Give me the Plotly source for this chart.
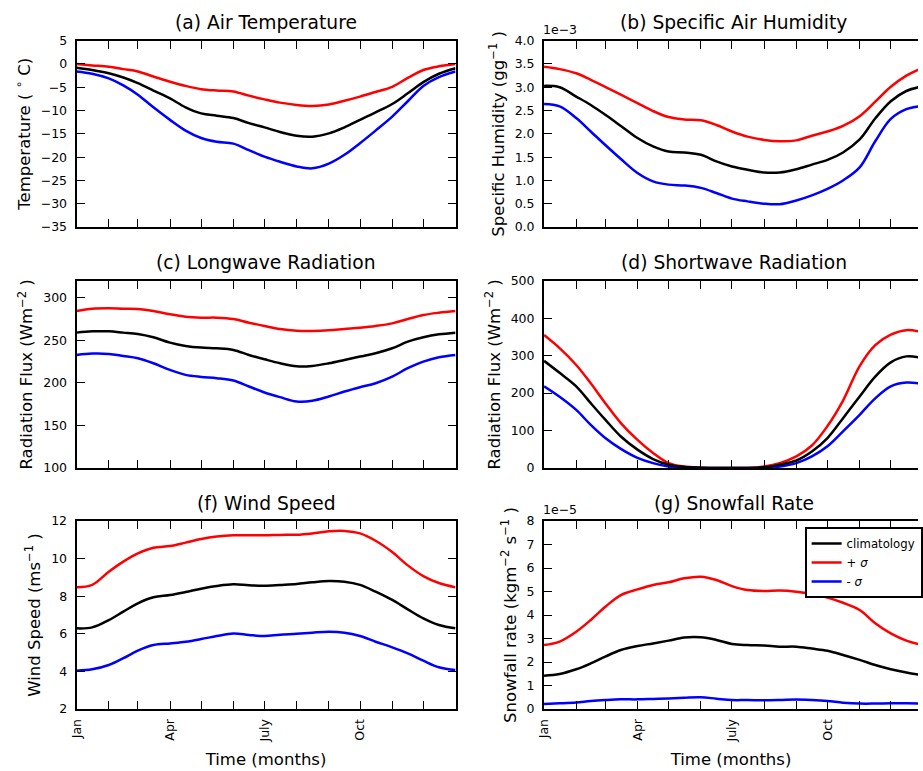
import plotly.graph_objects as go

# Day-of-year sample points (month starts and mid-months)
days = [0, 15, 31, 45, 59, 74, 90, 105, 120, 135, 151, 166, 181,
        196, 212, 227, 243, 258, 273, 288, 304, 319, 334, 349, 365]

month_starts = [0, 31, 59, 90, 120, 151, 181, 212, 243, 273, 304, 334, 365]
month_labels = ["Jan", "", "", "Apr", "", "", "July", "", "", "Oct", "", "", ""]

# (a) Air temperature, deg C
temp_mean = [-0.8, -1.3, -2.0, -2.9, -4.1, -5.7, -7.4, -9.3, -10.6, -11.1, -11.6, -12.7, -13.6,
             -14.6, -15.4, -15.6, -14.9, -13.6, -12.0, -10.4, -8.6, -6.3, -3.9, -2.1, -0.9]
temp_plus = [0.0, -0.3, -0.6, -1.1, -1.6, -2.7, -3.8, -4.7, -5.4, -5.7, -5.9, -6.8, -7.6,
             -8.3, -8.8, -9.0, -8.7, -7.9, -7.0, -6.0, -4.9, -3.0, -1.3, -0.5, 0.0]
temp_minus = [-1.6, -2.1, -3.1, -4.6, -6.6, -9.3, -12.0, -14.3, -15.9, -16.7, -17.1, -18.5, -19.9,
              -21.0, -22.0, -22.4, -21.4, -19.5, -17.0, -14.3, -11.3, -8.0, -4.7, -2.8, -1.6]

# (b) Specific air humidity, units of 1e-3 g/g
hum_mean = [3.03, 3.00, 2.80, 2.62, 2.41, 2.17, 1.91, 1.73, 1.62, 1.60, 1.55, 1.41, 1.30,
            1.23, 1.17, 1.17, 1.24, 1.34, 1.44, 1.60, 1.88, 2.33, 2.70, 2.92, 3.02]
hum_plus = [3.44, 3.39, 3.30, 3.16, 3.01, 2.84, 2.66, 2.49, 2.36, 2.31, 2.29, 2.19, 2.05,
            1.94, 1.87, 1.84, 1.86, 1.96, 2.05, 2.17, 2.38, 2.69, 3.01, 3.25, 3.42]
hum_minus = [2.64, 2.59, 2.34, 2.05, 1.76, 1.46, 1.16, 0.98, 0.91, 0.89, 0.84, 0.73, 0.61,
             0.55, 0.50, 0.49, 0.57, 0.68, 0.82, 1.00, 1.28, 1.84, 2.32, 2.53, 2.60]

# (c) Longwave radiation, W m-2
lw_mean = [259.0, 260.5, 260.5, 259.0, 257.4, 253.5, 247.3, 243.4, 241.4, 240.6, 238.7, 232.8, 227.7,
           223.0, 219.5, 219.9, 223.0, 226.9, 230.9, 234.8, 240.6, 248.4, 253.5, 257.0, 259.0]
lw_plus = [284.4, 287.0, 287.5, 287.0, 286.7, 284.4, 280.5, 277.7, 276.6, 276.6, 275.0, 270.7, 266.8,
           263.3, 261.3, 261.0, 261.7, 263.3, 264.8, 266.8, 269.9, 275.0, 279.7, 282.4, 284.4]
lw_minus = [232.8, 234.4, 234.0, 231.6, 228.9, 223.0, 215.2, 209.4, 207.0, 205.5, 202.7, 195.7, 188.7,
            183.2, 178.1, 178.9, 184.0, 189.8, 194.9, 199.6, 207.4, 217.2, 225.0, 230.1, 232.8]

# (d) Shortwave radiation, W m-2
sw_mean = [286, 254, 218, 173, 129, 84, 49, 24, 9, 3, 1, 0, 0,
           0, 2, 9, 20, 44, 80, 133, 191, 244, 282, 298, 293]
sw_plus = [355, 320, 275, 226, 173, 120, 75, 40, 13, 4, 1, 0, 0,
           0, 4, 13, 31, 60, 112, 180, 272, 328, 356, 368, 362]
sw_minus = [218, 190, 155, 115, 80, 51, 27, 13, 4, 2, 0, 0, 0,
            0, 1, 4, 13, 31, 58, 98, 142, 186, 218, 228, 224]

# (f) Wind speed, m s-1
wind_mean = [6.29, 6.34, 6.73, 7.18, 7.62, 7.94, 8.06, 8.22, 8.40, 8.54, 8.63, 8.58, 8.56,
             8.60, 8.65, 8.74, 8.81, 8.77, 8.60, 8.24, 7.80, 7.30, 6.82, 6.47, 6.29]
wind_plus = [8.47, 8.60, 9.30, 9.84, 10.28, 10.58, 10.67, 10.85, 11.04, 11.17, 11.24, 11.24, 11.24,
             11.26, 11.27, 11.34, 11.45, 11.47, 11.34, 10.95, 10.35, 9.64, 9.07, 8.70, 8.47]
wind_minus = [4.04, 4.11, 4.34, 4.70, 5.10, 5.40, 5.49, 5.58, 5.72, 5.88, 6.02, 5.94, 5.88,
              5.95, 6.00, 6.06, 6.11, 6.06, 5.88, 5.58, 5.28, 4.96, 4.57, 4.22, 4.07]

# (g) Snowfall rate, units of 1e-5 kg m-2 s-1
snow_mean = [1.42, 1.49, 1.69, 1.94, 2.23, 2.51, 2.68, 2.79, 2.91, 3.04, 3.05, 2.94, 2.77,
             2.72, 2.70, 2.65, 2.65, 2.57, 2.48, 2.30, 2.09, 1.87, 1.69, 1.55, 1.43]
snow_plus = [2.72, 2.87, 3.29, 3.79, 4.35, 4.85, 5.09, 5.28, 5.39, 5.56, 5.63, 5.49, 5.23,
             5.06, 5.02, 5.04, 4.99, 4.89, 4.74, 4.52, 4.21, 3.65, 3.22, 2.91, 2.72]
snow_minus = [0.21, 0.24, 0.28, 0.34, 0.38, 0.41, 0.41, 0.43, 0.45, 0.48, 0.50, 0.44, 0.38,
              0.38, 0.37, 0.38, 0.40, 0.38, 0.34, 0.27, 0.23, 0.23, 0.24, 0.24, 0.23]

FONT = "DejaVu Sans"
W, H = 923, 771
TICK_SIZE = 12.5

# panel definitions: title, y label, y range, y ticks, tick format, series, column, row, exponent
panels = [
    ("(a) Air Temperature", "Temperature ( <sup>∘</sup> C)", [-35, 5], list(range(-35, 6, 5)), None,
     (temp_mean, temp_plus, temp_minus), 0, 0, None),
    ("(b) Specific Air Humidity", "Specific Humidity (gg<sup>−1</sup> )", [0, 4], [i * 0.5 for i in range(9)], ".1f",
     (hum_mean, hum_plus, hum_minus), 1, 0, "1e−3"),
    ("(c) Longwave Radiation", "Radiation Flux (Wm<sup>−2</sup> )", [100, 320], [100, 150, 200, 250, 300], None,
     (lw_mean, lw_plus, lw_minus), 0, 1, None),
    ("(d) Shortwave Radiation", "Radiation Flux (Wm<sup>−2</sup> )", [0, 500], [0, 100, 200, 300, 400, 500], None,
     (sw_mean, sw_plus, sw_minus), 1, 1, None),
    ("(f) Wind Speed", "Wind Speed (ms<sup>−1</sup> )", [2, 12], [2, 4, 6, 8, 10, 12], None,
     (wind_mean, wind_plus, wind_minus), 0, 2, None),
    ("(g) Snowfall Rate", "Snowfall rate (kgm<sup>−2</sup> s<sup>−1</sup> )", [0, 8], list(range(0, 9)), None,
     (snow_mean, snow_plus, snow_minus), 1, 2, "1e−5"),
]

col_px = [(77, 458), (547, 928)]
row_px = [(40.7, 227), (280.7, 468), (521, 709)]
series_style = [("climatology", "black"), ("+ <i>σ</i>", "red"), ("- <i>σ</i>", "blue")]

fig = go.Figure()
layout = dict(
    width=W, height=H,
    margin=dict(l=0, r=0, t=0, b=0),
    template="none",
    paper_bgcolor="white", plot_bgcolor="white",
    font=dict(family=FONT, size=TICK_SIZE, color="black"),
    showlegend=True,
    annotations=[],
)

for i, (title, ylab, yr, yt, yfmt, series, col, row, expo) in enumerate(panels):
    n = i + 1
    xs = "x" if n == 1 else f"x{n}"
    ys = "y" if n == 1 else f"y{n}"
    x0, x1 = col_px[col]
    xdom = [x0 / W, min(x1 / W, 1.0)]
    xmax = 365 * (min(x1, W) - x0) / (x1 - x0)
    y0, y1 = row_px[row]
    ydom = [1 - y1 / H, 1 - y0 / H]

    # draw +sigma, -sigma, then climatology so the legend lists climatology first
    for k in (1, 2, 0):
        name, color = series_style[k]
        fig.add_trace(go.Scatter(
            x=days, y=series[k], mode="lines", name=name,
            line=dict(color=color, width=2.5, shape="spline", smoothing=1.0),
            xaxis=xs, yaxis=ys, legendrank=k + 1,
            showlegend=(n == 6), hoverinfo="skip",
        ))

    bottom = row == 2
    layout[f"xaxis{'' if n == 1 else n}"] = dict(
        domain=xdom, range=[0, xmax], anchor=ys,
        tickmode="array", tickvals=month_starts,
        ticktext=month_labels if bottom else [""] * len(month_starts),
        showticklabels=bottom, tickangle=-90, tickfont=dict(size=TICK_SIZE),
        ticklabelstandoff=3,
        ticks="inside", ticklen=8, tickwidth=1.3, tickcolor="black",
        showline=True, linecolor="black", linewidth=2, mirror="ticks",
        showgrid=False, zeroline=False, automargin=False,
        title=dict(text="Time (months)" if bottom else "", font=dict(size=16.5), standoff=12),
    )
    layout[f"yaxis{'' if n == 1 else n}"] = dict(
        domain=ydom, range=yr, anchor=xs,
        tickmode="array", tickvals=yt, tickformat=yfmt,
        ticks="inside", ticklen=8, tickwidth=1.3, tickcolor="black",
        ticklabelstandoff=5, tickfont=dict(size=TICK_SIZE),
        showline=True, linecolor="black", linewidth=2,
        mirror="ticks" if col == 0 else False,
        showgrid=False, zeroline=False, automargin=False,
        title=dict(text=ylab, font=dict(size=16.5), standoff=6),
    )
    if col == 1:
        # right-hand tick marks for the right column (its right spine lies past the page edge)
        m = 6 + (row + 1)
        layout[f"yaxis{m}"] = dict(
            overlaying=ys, anchor=xs, side="right", range=yr,
            tickmode="array", tickvals=yt, showticklabels=False,
            ticks="inside", ticklen=8, tickwidth=1.3, tickcolor="black",
            showline=False, showgrid=False, zeroline=False, automargin=False,
        )

    # panel title
    layout["annotations"].append(dict(
        text=title, x=(x0 + x1) / 2 / W, y=ydom[1], xref="paper", yref="paper",
        xanchor="center", yanchor="middle", yshift=18, showarrow=False,
        font=dict(size=18.7, family=FONT, color="black"),
    ))
    if expo:
        layout["annotations"].append(dict(
            text=expo, x=x0 / W, y=ydom[1], xref="paper", yref="paper",
            xanchor="left", yanchor="bottom", yshift=2, xshift=-3, showarrow=False,
            font=dict(size=TICK_SIZE, family=FONT, color="black"),
        ))

layout["legend"] = dict(
    x=809 / W, y=1 - 527 / H, xanchor="left", yanchor="top",
    bgcolor="white", bordercolor="black", borderwidth=2,
    font=dict(size=11.7, family=FONT, color="black"),
    tracegroupgap=0, itemwidth=30,
)

fig.update_layout(**layout)
fig.write_html("out.html")
